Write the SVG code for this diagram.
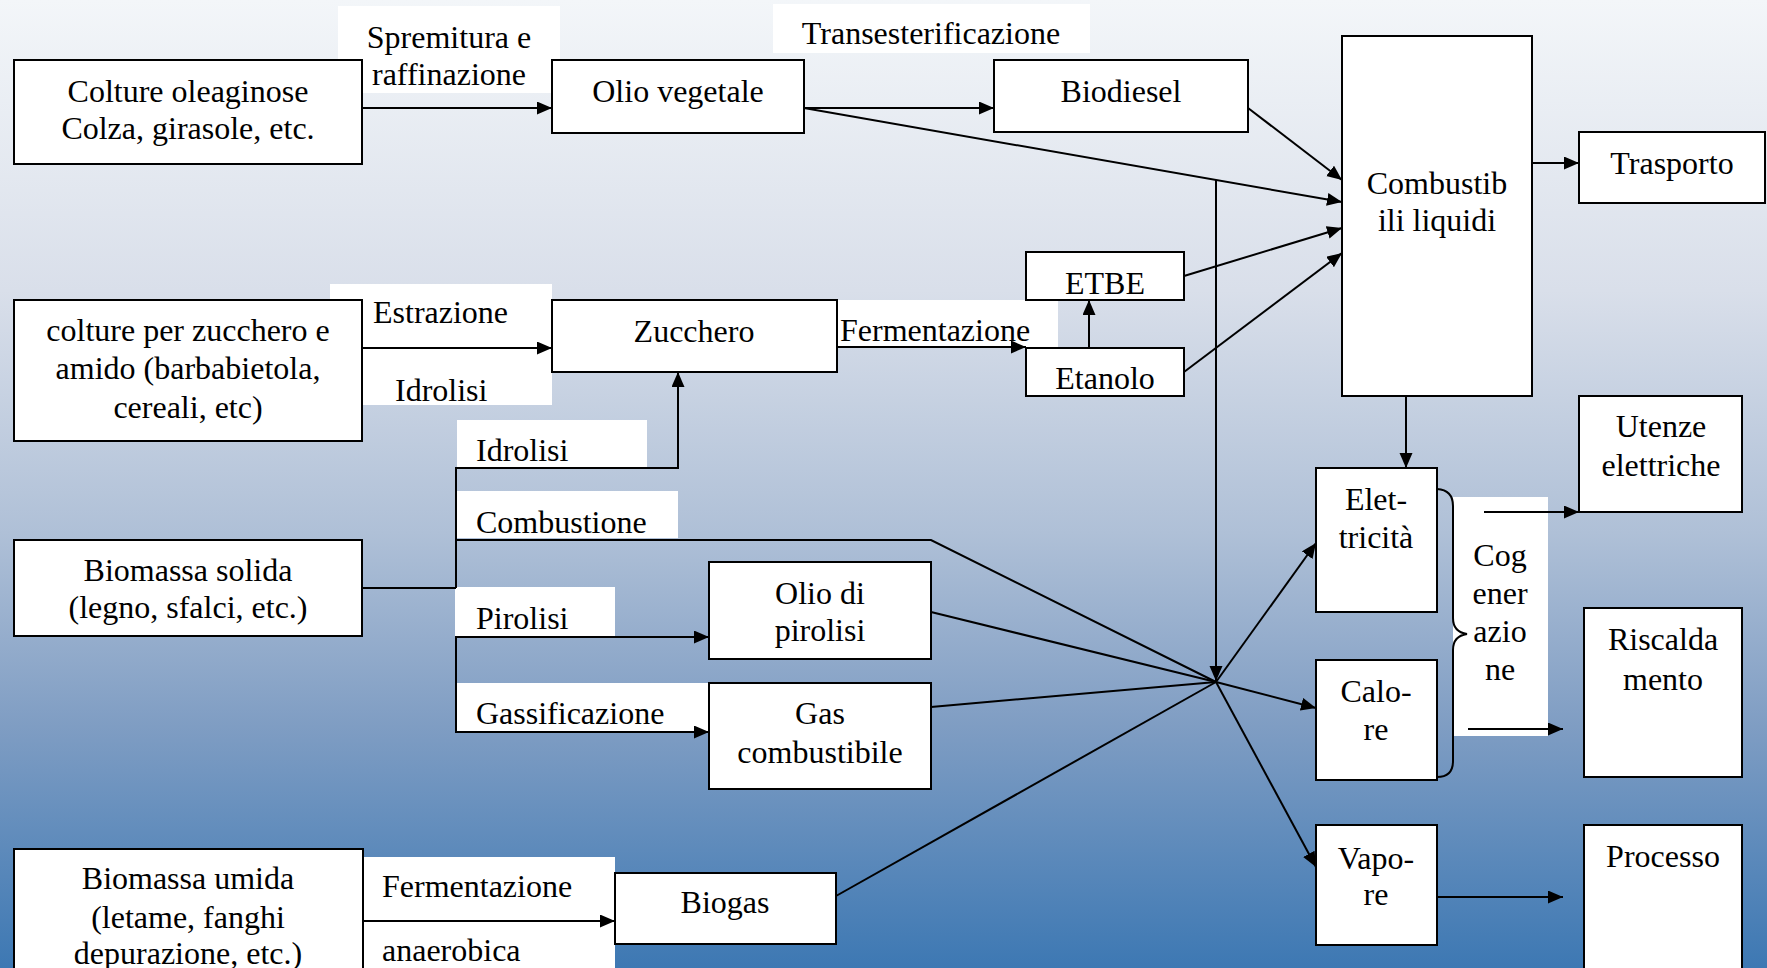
<svg xmlns="http://www.w3.org/2000/svg" width="1767" height="968" viewBox="0 0 1767 968">
<defs>
<linearGradient id="bg" x1="0" y1="0" x2="0" y2="1">
<stop offset="0" stop-color="#f3f6f9"/>
<stop offset="0.3" stop-color="#d9dfea"/>
<stop offset="0.55" stop-color="#afc0d7"/>
<stop offset="0.75" stop-color="#7f9dc3"/>
<stop offset="1" stop-color="#3d78b3"/>
</linearGradient>
<marker id="ah" markerUnits="userSpaceOnUse" markerWidth="16" markerHeight="14" refX="15" refY="6.5" orient="auto">
<path d="M0,0 L15,6.5 L0,13 z" fill="#000"/>
</marker>
<style>
.box{fill:#fff;stroke:#000;stroke-width:2}
.lbl{fill:#fff}
.t{font-family:"Liberation Serif","Times New Roman",serif;font-size:32px;fill:#000}
.c{text-anchor:middle}
.ln{fill:none;stroke:#000;stroke-width:2}
.ar{marker-end:url(#ah)}
</style>
</defs>
<rect x="0" y="0" width="1767" height="968" fill="url(#bg)"/>

<g id="labels">
<rect class="lbl" x="338" y="6" width="222" height="87"/>
<text class="t c" x="449" y="48">Spremitura e</text>
<text class="t c" x="449" y="85">raffinazione</text>
<rect class="lbl" x="773" y="4" width="317" height="49"/>
<text class="t c" x="931" y="44">Transesterificazione</text>
<rect class="lbl" x="330" y="284" width="222" height="121"/>
<text class="t" x="373" y="323">Estrazione</text>
<text class="t" x="395" y="401">Idrolisi</text>
<rect class="lbl" x="457" y="420" width="190" height="47"/>
<text class="t" x="476" y="461">Idrolisi</text>
<rect class="lbl" x="457" y="491" width="221" height="47"/>
<text class="t" x="476" y="533">Combustione</text>
<rect class="lbl" x="837" y="300" width="221" height="47"/>
<text class="t" x="840" y="341">Fermentazione</text>
<rect class="lbl" x="455" y="587" width="160" height="49"/>
<text class="t" x="476" y="629">Pirolisi</text>
<rect class="lbl" x="457" y="683" width="252" height="49"/>
<text class="t" x="476" y="724">Gassificazione</text>
<rect class="lbl" x="363" y="857" width="252" height="111"/>
<text class="t" x="382" y="897">Fermentazione</text>
<text class="t" x="382" y="961">anaerobica</text>
<rect class="lbl" x="1453" y="497" width="95" height="239"/>
<text class="t c" x="1500" y="566">Cog</text>
<text class="t c" x="1500" y="604">ener</text>
<text class="t c" x="1500" y="642">azio</text>
<text class="t c" x="1500" y="680">ne</text>
</g>

<g id="connectors">
<line class="ln ar" x1="362" y1="108" x2="552" y2="108"/>
<line class="ln ar" x1="804" y1="108" x2="994" y2="108"/>
<line class="ln ar" x1="804" y1="108" x2="1342" y2="202"/>
<line class="ln ar" x1="1248" y1="108" x2="1342" y2="180"/>
<line class="ln ar" x1="1184" y1="276" x2="1342" y2="228"/>
<line class="ln ar" x1="1184" y1="372" x2="1342" y2="253"/>
<line class="ln ar" x1="1532" y1="163" x2="1579" y2="163"/>
<line class="ln ar" x1="1216" y1="180" x2="1216" y2="681"/>
<line class="ln ar" x1="1406" y1="396" x2="1406" y2="468"/>
<line class="ln ar" x1="362" y1="348" x2="552" y2="348"/>
<line class="ln ar" x1="837" y1="347" x2="1026" y2="347"/>
<line class="ln ar" x1="1089" y1="348" x2="1089" y2="300"/>
<polyline class="ln ar" points="456,468 678,468 678,372"/>
<line class="ln" x1="456" y1="467" x2="456" y2="588"/>
<line class="ln" x1="362" y1="588" x2="456" y2="588"/>
<polyline class="ln" points="456,540 931,540 1216,682"/>
<line class="ln" x1="456" y1="637" x2="456" y2="733"/>
<line class="ln ar" x1="455" y1="637" x2="709" y2="637"/>
<line class="ln ar" x1="455" y1="732" x2="709" y2="732"/>
<line class="ln" x1="931" y1="612" x2="1216" y2="682"/>
<line class="ln" x1="931" y1="707" x2="1216" y2="682"/>
<line class="ln" x1="836" y1="896" x2="1216" y2="682"/>
<line class="ln ar" x1="1216" y1="682" x2="1316" y2="543"/>
<line class="ln ar" x1="1216" y1="682" x2="1316" y2="708"/>
<line class="ln ar" x1="1216" y1="682" x2="1316" y2="867"/>
<line class="ln ar" x1="1484" y1="512" x2="1579" y2="512"/>
<line class="ln ar" x1="1468" y1="729" x2="1563" y2="729"/>
<line class="ln ar" x1="1437" y1="897" x2="1563" y2="897"/>
<line class="ln ar" x1="363" y1="921" x2="615" y2="921"/>
<path class="ln" d="M1437,489 Q1453,490 1453,506 L1453,618 Q1453,632 1467,634 Q1453,636 1453,650 L1453,761 Q1453,777 1437,777"/>
</g>

<g id="n-colture-oleaginose"><rect class="box" x="14" y="60" width="348" height="104"/>
<text class="t c" x="188" y="102">Colture oleaginose</text><text class="t c" x="188" y="139">Colza, girasole, etc.</text></g>
<g id="n-olio-vegetale"><rect class="box" x="552" y="60" width="252" height="73"/>
<text class="t c" x="678" y="102">Olio vegetale</text></g>
<g id="n-biodiesel"><rect class="box" x="994" y="60" width="254" height="72"/>
<text class="t c" x="1121" y="102">Biodiesel</text></g>
<g id="n-combustibili"><rect class="box" x="1342" y="36" width="190" height="360"/>
<text class="t c" x="1437" y="194">Combustib</text><text class="t c" x="1437" y="231">ili liquidi</text></g>
<g id="n-trasporto"><rect class="box" x="1579" y="132" width="186" height="71"/>
<text class="t c" x="1672" y="174">Trasporto</text></g>
<g id="n-colture-zucchero"><rect class="box" x="14" y="300" width="348" height="141"/>
<text class="t c" x="188" y="341">colture per zucchero e</text><text class="t c" x="188" y="379">amido (barbabietola,</text><text class="t c" x="188" y="418">cereali, etc)</text></g>
<g id="n-zucchero"><rect class="box" x="552" y="300" width="285" height="72"/>
<text class="t c" x="694" y="342">Zucchero</text></g>
<g id="n-etbe"><rect class="box" x="1026" y="252" width="158" height="48"/>
<text class="t c" x="1105" y="294">ETBE</text></g>
<g id="n-etanolo"><rect class="box" x="1026" y="348" width="158" height="48"/>
<text class="t c" x="1105" y="389">Etanolo</text></g>
<g id="n-biomassa-solida"><rect class="box" x="14" y="540" width="348" height="96"/>
<text class="t c" x="188" y="581">Biomassa solida</text><text class="t c" x="188" y="618">(legno, sfalci, etc.)</text></g>
<g id="n-olio-pirolisi"><rect class="box" x="709" y="562" width="222" height="97"/>
<text class="t c" x="820" y="604">Olio di</text><text class="t c" x="820" y="641">pirolisi</text></g>
<g id="n-gas"><rect class="box" x="709" y="683" width="222" height="106"/>
<text class="t c" x="820" y="724">Gas</text><text class="t c" x="820" y="763">combustibile</text></g>
<g id="n-biomassa-umida"><rect class="box" x="14" y="849" width="349" height="130"/>
<text class="t c" x="188" y="889">Biomassa umida</text><text class="t c" x="188" y="928">(letame, fanghi</text><text class="t c" x="188" y="964">depurazione, etc.)</text></g>
<g id="n-biogas"><rect class="box" x="615" y="873" width="221" height="71"/>
<text class="t c" x="725" y="913">Biogas</text></g>
<g id="n-elettricita"><rect class="box" x="1316" y="468" width="121" height="144"/>
<text class="t c" x="1376" y="510">Elet-</text><text class="t c" x="1376" y="548">tricità</text></g>
<g id="n-calore"><rect class="box" x="1316" y="660" width="121" height="120"/>
<text class="t c" x="1376" y="702">Calo-</text><text class="t c" x="1376" y="740">re</text></g>
<g id="n-vapore"><rect class="box" x="1316" y="825" width="121" height="120"/>
<text class="t c" x="1376" y="869">Vapo-</text><text class="t c" x="1376" y="905">re</text></g>
<g id="n-utenze"><rect class="box" x="1579" y="396" width="163" height="116"/>
<text class="t c" x="1661" y="437">Utenze</text><text class="t c" x="1661" y="476">elettriche</text></g>
<g id="n-riscaldamento"><rect class="box" x="1584" y="608" width="158" height="169"/>
<text class="t c" x="1663" y="650">Riscalda</text><text class="t c" x="1663" y="690">mento</text></g>
<g id="n-processo"><rect class="box" x="1584" y="825" width="158" height="160"/>
<text class="t c" x="1663" y="867">Processo</text></g>
</svg>
